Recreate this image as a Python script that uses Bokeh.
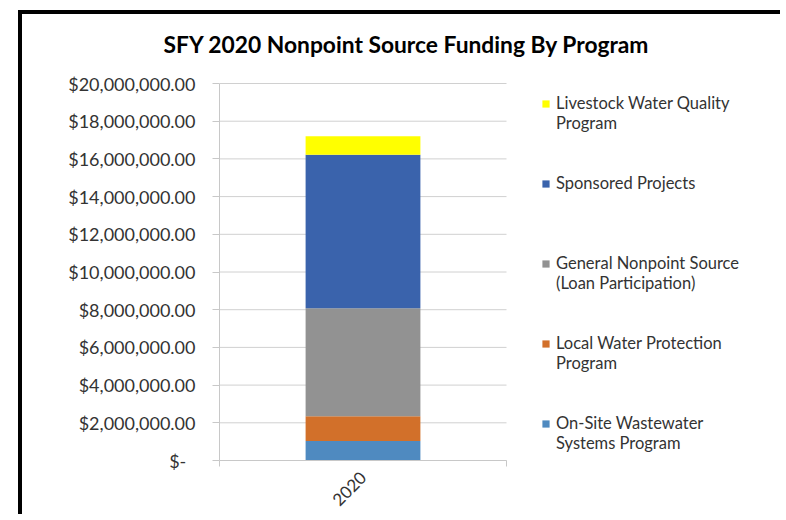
from math import pi
from bokeh.plotting import figure
from bokeh.models import (Range1d, LinearAxis, FixedTicker, Legend, LegendItem)
from bokeh.embed import file_html
from bokeh.resources import INLINE

# ---- data ----
years = ["2020"]
series_keys = ["onsite", "local", "general", "sponsored", "livestock"]
series_labels = [
    "On-Site Wastewater\nSystems Program",
    "Local Water Protection\nProgram",
    "General Nonpoint Source\n(Loan Participation)",
    "Sponsored Projects",
    "Livestock Water Quality\nProgram",
]
onsite = [1040000]
local = [1310000]
general = [5730000]
sponsored = [8140000]
livestock = [980000]
y_ticks = [0, 2000000, 4000000, 6000000, 8000000, 10000000,
           12000000, 14000000, 16000000, 18000000, 20000000]
colors = ["#4F8AC0", "#D2702A", "#929292", "#3A63AC", "#FFFF00"]

FONT = "Lato"
TXT = "#333333"
GRID = "#D0D0D0"

# layout (pixels)
W, H = 762, 504
LEFT, TOP, BOTTOM = 197, 56, 58
PLOT_W = 287                      # width of the chart region, legend sits to its right
CHART_H = 377                     # height of the 0..max value region
FRAME_W = W - LEFT
FRAME_H = H - TOP - BOTTOM
Y_MAX = y_ticks[-1]

# category slots: one unit per year, centred at i + 0.5
n = len(years)
xpos = [i + 0.5 for i in range(n)]
source = dict(x=xpos, onsite=onsite, local=local, general=general,
              sponsored=sponsored, livestock=livestock)

p = figure(x_range=Range1d(0, n * FRAME_W / PLOT_W),
           y_range=Range1d(0, Y_MAX * FRAME_H / CHART_H),
           width=W, height=H, output_backend="svg", toolbar_location=None,
           x_axis_location=None, min_border_left=LEFT, min_border_right=0,
           min_border_top=TOP, min_border_bottom=BOTTOM)
p.styles = {"margin-left": "18px", "margin-top": "10px",
            "border-left": "4px solid black", "border-top": "4px solid black"}
p.outline_line_color = None
p.xgrid.visible = False
p.ygrid.visible = False

# horizontal gridlines limited to the chart region
p.segment(x0=[0] * len(y_ticks), x1=[n] * len(y_ticks), y0=y_ticks, y1=y_ticks,
          line_color=GRID, line_width=1)

renderers = p.vbar_stack(series_keys, x="x", width=0.4, color=colors,
                         source=source, line_color=None)

# y axis
ya = p.yaxis[0]
ya.ticker = FixedTicker(ticks=y_ticks)
ya.bounds = (0, Y_MAX)
ya.major_label_overrides = {v: ("$-\u00a0\u00a0" if v == 0 else "${:,.2f}".format(v)) for v in y_ticks}
ya.major_label_text_font = FONT
ya.major_label_text_font_size = "18px"
ya.major_label_text_color = TXT
ya.axis_line_color = "#C8C8C8"
ya.major_tick_line_color = "#C8C8C8"
ya.major_tick_out = 7
ya.major_tick_in = 0
ya.minor_tick_line_color = None
ya.major_label_standoff = 17

# x axes: edge ticks between categories + category label
edges = list(range(n + 1))
edge = LinearAxis(ticker=FixedTicker(ticks=edges), bounds=(0, n),
                  major_label_overrides={e: "" for e in edges},
                  major_label_text_font_size="0px", major_label_standoff=0,
                  axis_line_color="#C8C8C8", major_tick_line_color="#C8C8C8",
                  major_tick_out=6, major_tick_in=0, minor_tick_line_color=None)
p.add_layout(edge, "below")
cat = LinearAxis(ticker=FixedTicker(ticks=xpos),
                 major_label_overrides={x: y for x, y in zip(xpos, years)},
                 axis_line_color=None, major_tick_line_color=None,
                 minor_tick_line_color=None,
                 major_label_orientation=pi / 4,
                 major_label_text_font=FONT,
                 major_label_text_font_size="17px",
                 major_label_text_color=TXT, major_label_standoff=2)
p.add_layout(cat, "below")

# title
p.title.text = "SFY 2020 Nonpoint Source Funding By Program"
p.title.text_font = FONT
p.title.text_font_style = "bold"
p.title.text_font_size = "22.8px"
p.title.text_color = "#000000"
p.title.align = "left"
p.title.offset = -56
p.title.standoff = 25

# legend: marker sits beside the first line of each (top-aligned) label,
# so each label is padded with a blank line above and below as needed
def padded(label):
    lines = label.split("\n")
    lines = ["\u00a0"] + lines
    while len(lines) < 3:
        lines.append("\u00a0")
    return "\n".join(lines)

items = [LegendItem(label=padded(lab), renderers=[r]) for lab, r in zip(series_labels, renderers)]
items = items[::-1]
legend = Legend(items=items, location=(PLOT_W + 35, 5), orientation="vertical",
                label_text_font=FONT, label_text_font_size="16.5px",
                label_text_color=TXT, label_text_line_height=1.3,
                glyph_width=9, glyph_height=9, label_standoff=6,
                label_height=64, spacing=16, padding=0, margin=0,
                border_line_color=None, background_fill_alpha=0)
p.add_layout(legend, "center")

open("out.html", "w").write(file_html(p, INLINE))
